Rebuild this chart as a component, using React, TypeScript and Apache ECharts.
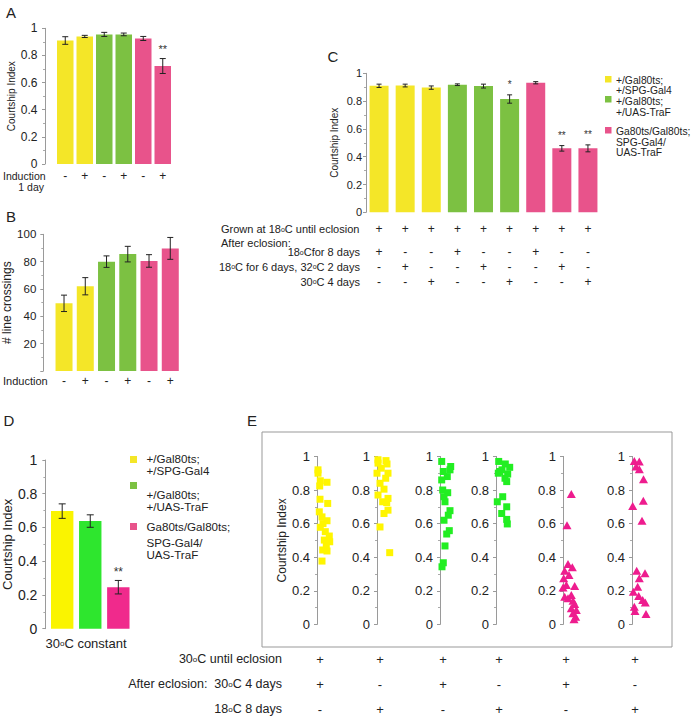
import React, { useEffect, useRef } from "react";
import * as echarts from "echarts";

const FONT = "'Liberation Sans', Arial, Helvetica, sans-serif";

// ---------- colours ----------
const COL_ABC = ["#F4E628", "#7CC142", "#E8538B"];
const COL_D = ["#FAF400", "#2EE62E", "#F02A8C"];
const COL_E = ["#FFF500", "#22EE22", "#EE1C8E"];

// ---------- Panel A ----------
const aSigns = ["-", "+", "-", "+", "-", "+"];
const aMeans = [0.91, 0.94, 0.955, 0.955, 0.925, 0.722];
const aErrs = [0.028, 0.008, 0.015, 0.01, 0.015, 0.055];
const aSig = ["", "", "", "", "", "**"];
const aGroup = [0, 0, 1, 1, 2, 2];

// ---------- Panel B ----------
const bSigns = ["-", "+", "-", "+", "-", "+"];
const bMeans = [49.5, 62, 80, 85.5, 80.5, 89.7];
const bErrs = [6, 6.3, 4.2, 5.7, 4.6, 8];
const bGroup = [0, 0, 1, 1, 2, 2];

// ---------- Panel C ----------
const cMeans = [0.91, 0.912, 0.897, 0.918, 0.908, 0.815, 0.932, 0.46, 0.46];
const cErrs = [0.012, 0.01, 0.012, 0.006, 0.014, 0.03, 0.008, 0.02, 0.025];
const cSig = ["", "", "", "", "", "*", "", "**", "**"];
const cGroup = [0, 0, 0, 1, 1, 1, 2, 2, 2];
const cRowLabels = [
  "Grown at 18°C until eclosion",
  "18°Cfor 8 days",
  "18°C for 6 days, 32°C 2 days",
  "30°C 4 days",
];
const cRows = [
  ["+", "+", "+", "+", "+", "+", "+", "+", "+"],
  ["+", "-", "-", "+", "-", "-", "+", "-", "-"],
  ["-", "+", "-", "-", "+", "-", "-", "+", "-"],
  ["-", "-", "+", "-", "-", "+", "-", "-", "+"],
];

// ---------- Legend ----------
const legendLines = [
  ["+/Gal80ts;", "+/SPG-Gal4"],
  ["+/Gal80ts;", "+/UAS-TraF"],
  ["Ga80ts/Gal80ts;", "SPG-Gal4/", "UAS-TraF"],
];

// ---------- Panel D ----------
const dMeans = [0.697, 0.638, 0.246];
const dErrs = [0.043, 0.037, 0.04];
const dSig = ["", "", "**"];
const dCategory = "30°C constant";

// ---------- Panel E ----------
const e1: number[][] = [[1,0.92],[1,0.90],[3.3,0.855],[10,0.846],[2.7,0.824],[3,0.745],[10.7,0.72],[2.3,0.67],[5,0.64],[10,0.617],[6,0.60],[3.3,0.578],[8.3,0.552],[12.3,0.526],[7.3,0.502],[12.7,0.492],[9.3,0.473],[5.7,0.443],[10,0.437],[5,0.377]];
const e2: number[][] = [[1,0.98],[9,0.975],[1,0.96],[10,0.955],[4.3,0.93],[11,0.90],[0,0.90],[8.7,0.87],[3,0.84],[7,0.805],[1,0.77],[11,0.75],[5.7,0.73],[9.7,0.725],[11,0.68],[7,0.66],[3,0.58],[12.7,0.427]];
const e3: number[][] = [[1.7,0.97],[10.7,0.94],[3.3,0.91],[10,0.92],[7.3,0.88],[1.7,0.86],[2.7,0.80],[7.7,0.784],[4,0.76],[5,0.73],[10,0.677],[8.3,0.65],[4,0.62],[9.3,0.558],[6.7,0.538],[5,0.467],[3.3,0.367],[2,0.343]];
const e4: number[][] = [[2.7,0.97],[9.3,0.955],[13.7,0.935],[6,0.92],[3.7,0.91],[11.7,0.895],[2.3,0.90],[9,0.87],[10.7,0.85],[6.7,0.76],[1.3,0.73],[10.7,0.70],[5.7,0.66],[10.7,0.625],[11.3,0.598]];
const e5: number[][] = [[8.3,0.776],[4,0.59],[5,0.36],[9.3,0.34],[1.7,0.32],[6,0.294],[0.7,0.274],[3.3,0.235],[11.7,0.229],[0,0.22],[8.3,0.175],[1.7,0.165],[5,0.155],[10,0.141],[11.7,0.121],[8.3,0.096],[13.3,0.086],[10,0.066],[12.7,0.046],[11,0.03]];
const e6: number[][] = [[2.3,0.973],[7.3,0.97],[4,0.94],[7.3,0.923],[11.5,0.864],[11.3,0.736],[0.7,0.705],[10,0.617],[4.7,0.32],[13,0.304],[7.3,0.274],[5.7,0.224],[1.3,0.195],[6.7,0.169],[10.7,0.145],[13.3,0.13],[2.3,0.105],[14,0.062],[3,0.08]];
const eSets = [e1, e2, e3, e4, e5, e6];
const eGroup = [0, 0, 1, 1, 2, 2];
const eRowLabels = ["30°C until eclosion", "After eclosion:  30°C 4 days", "18°C 8 days"];
const eRows = [
  ["+", "+", "+", "+", "+", "+"],
  ["+", "-", "+", "-", "+", "-"],
  ["-", "+", "-", "+", "-", "+"],
];

// ---------- layout (pixels) ----------
const gridA = { left: 55.5, top: 28.3, width: 117, height: 135.7 };
const gridB = { left: 53.4, top: 234.3, width: 127.5, height: 136.7 };
const gridC = { left: 366, top: 73.3, width: 235, height: 139 };
const gridD = { left: 46.1, top: 460, width: 86.25, height: 168.7 };
const eAxisX = [317, 377, 440, 496, 563, 632];
const eTop = 456.4;
const eHeight = 168;

const deg = (s: string) => s.replace(/°/g, "{s|o}");

function txt(text: string, x: number, y: number, size = 11, align = "left", color = "#222") {
  return {
    type: "text",
    x,
    y,
    silent: true,
    z: 20,
    style: {
      text: deg(text),
      fontSize: size,
      fontFamily: FONT,
      fill: color,
      align,
      verticalAlign: "middle",
      rich: { s: { fontSize: Math.round(size * 0.62), fontFamily: FONT, fill: color } },
    },
  };
}

function yAxisBase(gridIndex: number, opts: any) {
  return {
    type: "value",
    gridIndex,
    min: opts.min ?? 0,
    max: opts.max ?? 1,
    interval: opts.interval ?? 0.2,
    offset: opts.offset ?? 0,
    axisLine: { show: true, lineStyle: { color: "#9a9a9a", width: 1 } },
    axisTick: { show: true, length: 3, lineStyle: { color: "#9a9a9a" } },
    minorTick: { show: true, splitNumber: 2, length: 2, lineStyle: { color: "#aaaaaa" } },
    splitLine: { show: false },
    axisLabel: {
      fontSize: opts.labelSize ?? 12,
      color: "#222",
      margin: opts.margin ?? 7,
      fontFamily: FONT,
      formatter: opts.formatter,
    },
    name: opts.name ?? "",
    nameLocation: "middle",
    nameGap: opts.nameGap ?? 27,
    nameTextStyle: { fontSize: opts.nameSize ?? 11, color: "#222", fontFamily: FONT },
  };
}

function catAxis(gridIndex: number, n: number) {
  return {
    type: "category",
    gridIndex,
    data: Array.from({ length: n }, (_, i) => String(i + 1)),
    show: false,
  };
}

function barSeries(idx: number, means: number[], colors: string[], width: number) {
  return {
    type: "bar",
    xAxisIndex: idx,
    yAxisIndex: idx,
    barWidth: width,
    data: means.map((m, i) => ({ value: m, itemStyle: { color: colors[i] } })),
    silent: true,
  };
}

function errSeries(idx: number, means: number[], errs: number[], sig: string[], capW: number, sigGap: number, sigSize: number) {
  return {
    type: "custom",
    xAxisIndex: idx,
    yAxisIndex: idx,
    silent: true,
    z: 10,
    data: means.map((m, i) => [i, m - errs[i], m + errs[i]]),
    renderItem: (params: any, api: any) => {
      const x = api.value(0);
      const lo = api.coord([x, api.value(1)]);
      const hi = api.coord([x, api.value(2)]);
      const st = { stroke: "#222", lineWidth: 1 };
      const children: any[] = [
        { type: "line", shape: { x1: lo[0], y1: lo[1], x2: hi[0], y2: hi[1] }, style: st },
        { type: "line", shape: { x1: lo[0] - capW / 2, y1: lo[1], x2: lo[0] + capW / 2, y2: lo[1] }, style: st },
        { type: "line", shape: { x1: hi[0] - capW / 2, y1: hi[1], x2: hi[0] + capW / 2, y2: hi[1] }, style: st },
      ];
      const s = sig[params.dataIndex];
      if (s) {
        children.push({
          type: "text",
          x: hi[0],
          y: hi[1] - sigGap,
          style: { text: s, fontSize: sigSize, fontFamily: FONT, fill: "#333", align: "center", verticalAlign: "middle" },
        });
      }
      return { type: "group", children };
    },
  };
}

function buildOption() {
  const grids: any[] = [gridA, gridB, gridC, gridD];
  eAxisX.forEach((x) => grids.push({ left: x, top: eTop, width: 26, height: eHeight }));

  const xAxes: any[] = [catAxis(0, 6), catAxis(1, 6), catAxis(2, 9), catAxis(3, 3)];
  eAxisX.forEach((_, i) => xAxes.push({ type: "value", gridIndex: 4 + i, min: 0, max: 26, show: false }));

  const yAxes: any[] = [
    yAxisBase(0, { offset: 10.5, name: "Courtship Index", nameGap: 28, nameSize: 10, labelSize: 12, margin: 7.5 }),
    yAxisBase(1, {
      max: 100, interval: 20, offset: 10.1, name: "# line crossings", nameGap: 24, nameSize: 12, labelSize: 11.5, margin: 7,
      formatter: (v: number) => (v === 0 ? "" : String(v)),
    }),
    yAxisBase(2, { name: "Courtship Index", nameGap: 27, nameSize: 10, labelSize: 11, margin: 4 }),
    yAxisBase(3, { offset: 2.8, name: "Courtship Index", nameGap: 28, nameSize: 13, labelSize: 14, margin: 8 }),
  ];
  eAxisX.forEach((_, i) =>
    yAxes.push(
      yAxisBase(4 + i, {
        name: i === 0 ? "Courtship Index" : "",
        nameGap: 29.5,
        nameSize: 12,
        labelSize: 13,
        margin: 7,
      })
    )
  );

  const series: any[] = [
    barSeries(0, aMeans, aGroup.map((g) => COL_ABC[g]), 16.5),
    errSeries(0, aMeans, aErrs, aSig, 6, 9.5, 11),
    barSeries(1, bMeans, bGroup.map((g) => COL_ABC[g]), 17),
    errSeries(1, bMeans, bErrs, ["", "", "", "", "", ""], 6, 9, 11),
    barSeries(2, cMeans, cGroup.map((g) => COL_ABC[g]), 19),
    errSeries(2, cMeans, cErrs, cSig, 5, 10.5, 10),
    barSeries(3, dMeans, COL_D, 22.4),
    errSeries(3, dMeans, dErrs, dSig, 7, 8.5, 12),
  ];
  eSets.forEach((set, i) => {
    const tri = eGroup[i] === 2;
    series.push({
      type: "scatter",
      xAxisIndex: 4 + i,
      yAxisIndex: 4 + i,
      symbol: tri ? "triangle" : "rect",
      symbolSize: tri ? [9, 8] : 7,
      itemStyle: { color: COL_E[eGroup[i]], opacity: 1 },
      data: set,
      silent: true,
    });
  });

  return {
    animation: false,
    backgroundColor: "#ffffff",
    textStyle: { fontFamily: FONT },
    grid: grids,
    xAxis: xAxes,
    yAxis: yAxes,
    series,
  };
}

function buildGraphic(chart: any) {
  const g: any[] = [];
  const px = (gridIndex: number, v: number) => chart.convertToPixel({ gridIndex }, [v, 0])[0];

  // panel letters
  g.push(txt("A", 11, 12, 15, "center"));
  g.push(txt("B", 11, 216, 15, "center"));
  g.push(txt("C", 333, 56, 15, "center"));
  g.push(txt("D", 9, 420, 15, "center"));
  g.push(txt("E", 252, 420, 15, "center"));

  // A table
  g.push(txt("Induction", 3, 175.5, 10.5));
  g.push(txt("1 day", 44, 186.5, 10.5, "right"));
  aSigns.forEach((s, i) => g.push(txt(s, px(0, i), 175.5, 12, "center")));

  // B table
  g.push(txt("Induction", 3, 381, 11));
  bSigns.forEach((s, i) => g.push(txt(s, px(1, i), 381, 12, "center")));

  // C table
  const cRowY = [229.3, 252.3, 266.7, 281.7];
  g.push(txt(cRowLabels[0], 221, cRowY[0], 11));
  g.push(txt("After eclosion:", 221, 243, 11));
  for (let r = 1; r < 4; r++) g.push(txt(cRowLabels[r], 360, cRowY[r], 11, "right"));
  cRows.forEach((row, r) => row.forEach((s, i) => g.push(txt(s, px(2, i), cRowY[r], 12, "center"))));

  // C legend
  const cSqY = [79, 99, 130];
  const cTxtY = [[80, 90.5], [101.5, 112], [131.5, 142, 152.5]];
  legendLines.forEach((lines, k) => {
    g.push({ type: "rect", silent: true, z: 20, shape: { x: 605, y: cSqY[k] - 3, width: 6.5, height: 6.5 }, style: { fill: COL_ABC[k] } });
    lines.forEach((l, j) => g.push(txt(l, 616, cTxtY[k][j], 10.3)));
  });

  // D category label and legend
  g.push(txt(dCategory, 86, 643, 13, "center"));
  const dSqY = [459.5, 485.5, 526.5];
  const dTxtY = [[458.5, 470.5], [494, 506], [526.5, 542.5, 554.5]];
  legendLines.forEach((lines, k) => {
    g.push({ type: "rect", silent: true, z: 20, shape: { x: 130, y: dSqY[k] - 3.5, width: 7, height: 7 }, style: { fill: COL_ABC[k] } });
    lines.forEach((l, j) => g.push(txt(l, 146.5, dTxtY[k][j], 11.6)));
  });

  // E box
  g.push({
    type: "rect",
    silent: true,
    z: 0,
    shape: { x: 262, y: 432, width: 410, height: 215 },
    style: { fill: "rgba(0,0,0,0)", stroke: "#999", lineWidth: 1 },
  });

  // E table
  const eRowY = [659, 684, 709];
  eRowLabels.forEach((l, r) => g.push(txt(l, 282, eRowY[r], 12.5, "right")));
  eRows.forEach((row, r) => row.forEach((s, i) => g.push(txt(s, px(4 + i, 3), eRowY[r], 13, "center"))));

  return g;
}

export default function App() {
  const ref = useRef<HTMLDivElement>(null);
  useEffect(() => {
    document.body.style.margin = "0";
    const chart = echarts.init(ref.current as HTMLDivElement, null, { renderer: "svg" });
    chart.setOption(buildOption() as any);
    chart.setOption({ graphic: buildGraphic(chart) } as any);
    return () => chart.dispose();
  }, []);
  return <div ref={ref} style={{ width: 694, height: 719 }} />;
}
